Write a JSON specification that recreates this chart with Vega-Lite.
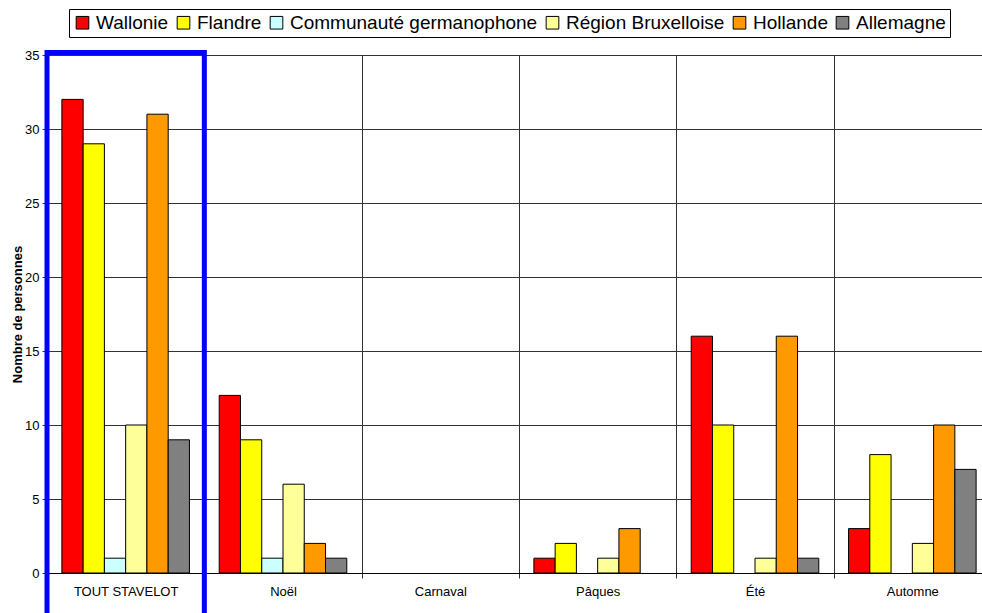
{
  "$schema": "https://vega.github.io/schema/vega-lite/v6.json",
  "autosize": "none",
  "width": 935,
  "height": 518,
  "padding": {"left": 47, "top": 55, "right": 0, "bottom": 40},
  "background": "white",
  "config": {
    "font": "Liberation Sans",
    "view": {"stroke": null}
  },
  "datasets": {
    "bars": [
      {"periode": "TOUT STAVELOT", "region": "Wallonie", "n": 32},
      {"periode": "TOUT STAVELOT", "region": "Flandre", "n": 29},
      {"periode": "TOUT STAVELOT", "region": "Communauté germanophone", "n": 1},
      {"periode": "TOUT STAVELOT", "region": "Région Bruxelloise", "n": 10},
      {"periode": "TOUT STAVELOT", "region": "Hollande", "n": 31},
      {"periode": "TOUT STAVELOT", "region": "Allemagne", "n": 9},
      {"periode": "Noël", "region": "Wallonie", "n": 12},
      {"periode": "Noël", "region": "Flandre", "n": 9},
      {"periode": "Noël", "region": "Communauté germanophone", "n": 1},
      {"periode": "Noël", "region": "Région Bruxelloise", "n": 6},
      {"periode": "Noël", "region": "Hollande", "n": 2},
      {"periode": "Noël", "region": "Allemagne", "n": 1},
      {"periode": "Pâques", "region": "Wallonie", "n": 1},
      {"periode": "Pâques", "region": "Flandre", "n": 2},
      {"periode": "Pâques", "region": "Région Bruxelloise", "n": 1},
      {"periode": "Pâques", "region": "Hollande", "n": 3},
      {"periode": "Été", "region": "Wallonie", "n": 16},
      {"periode": "Été", "region": "Flandre", "n": 10},
      {"periode": "Été", "region": "Région Bruxelloise", "n": 1},
      {"periode": "Été", "region": "Hollande", "n": 16},
      {"periode": "Été", "region": "Allemagne", "n": 1},
      {"periode": "Automne", "region": "Wallonie", "n": 3},
      {"periode": "Automne", "region": "Flandre", "n": 8},
      {"periode": "Automne", "region": "Région Bruxelloise", "n": 2},
      {"periode": "Automne", "region": "Hollande", "n": 10},
      {"periode": "Automne", "region": "Allemagne", "n": 7}
    ],
    "cadre": [
      {"periode": "TOUT STAVELOT", "haut": 35.17, "bas": -3}
    ]
  },
  "layer": [
    {
      "data": {"name": "bars"},
      "mark": {"type": "bar", "stroke": "black", "strokeWidth": 1},
      "encoding": {
        "x": {
          "field": "periode",
          "type": "nominal",
          "sort": null,
          "scale": {
            "domain": ["TOUT STAVELOT", "Noël", "Carnaval", "Pâques", "Été", "Automne"],
            "range": [0, 944],
            "paddingInner": 0,
            "paddingOuter": 0
          },
          "axis": {
            "title": null,
            "labelAngle": 0,
            "labelFont": "Liberation Sans",
            "labelFontSize": 13,
            "labelColor": "black",
            "labelPadding": 7,
            "tickBand": "extent",
            "tickSize": 5,
            "tickColor": "#333",
            "grid": true,
            "gridColor": "#333",
            "gridOpacity": 1,
            "domainColor": "black",
            "domainWidth": 1
          }
        },
        "xOffset": {
          "field": "region",
          "type": "nominal",
          "scale": {
            "domain": ["Wallonie", "Flandre", "Communauté germanophone", "Région Bruxelloise", "Hollande", "Allemagne"],
            "paddingInner": 0,
            "paddingOuter": 0.7
          }
        },
        "y": {
          "field": "n",
          "type": "quantitative",
          "scale": {"domain": [0, 35], "nice": false, "zero": true},
          "axis": {
            "title": "Nombre de personnes",
            "titleFont": "Liberation Sans",
            "titleFontSize": 13,
            "titleFontWeight": "bold",
            "titleColor": "black",
            "titleX": -30,
            "titleY": 259,
            "titleAngle": -90,
            "titleAlign": "center",
            "titleBaseline": "middle",
            "values": [0, 5, 10, 15, 20, 25, 30, 35],
            "labelFont": "Liberation Sans",
            "labelFontSize": 13,
            "labelColor": "black",
            "labelPadding": 3,
            "tickSize": 5,
            "tickColor": "#333",
            "grid": true,
            "gridColor": "#333",
            "gridOpacity": 1,
            "domainColor": "black"
          }
        },
        "color": {
          "field": "region",
          "type": "nominal",
          "scale": {
            "domain": ["Wallonie", "Flandre", "Communauté germanophone", "Région Bruxelloise", "Hollande", "Allemagne"],
            "range": ["#FF0000", "#FFFF00", "#CCFFFF", "#FFFF99", "#FF9900", "#808080"]
          },
          "legend": {
            "title": null,
            "orient": "none",
            "legendX": 22,
            "legendY": -46,
            "direction": "horizontal",
            "columns": 6,
            "labelFont": "Liberation Sans",
            "labelFontSize": 19,
            "labelColor": "black",
            "labelLimit": 500,
            "labelOffset": 4,
            "symbolType": "square",
            "symbolSize": 160,
            "symbolStrokeColor": "black",
            "symbolStrokeWidth": 1,
            "symbolOpacity": 1,
            "strokeColor": "black",
            "fillColor": "white",
            "padding": 4,
            "columnPadding": 5
          }
        }
      }
    },
    {
      "data": {"name": "cadre"},
      "mark": {"type": "rect", "fill": null, "fillOpacity": 0, "stroke": "#0000FF", "strokeWidth": 5},
      "encoding": {
        "x": {"field": "periode", "type": "nominal"},
        "y": {"field": "haut", "type": "quantitative"},
        "y2": {"field": "bas"}
      }
    }
  ]
}
